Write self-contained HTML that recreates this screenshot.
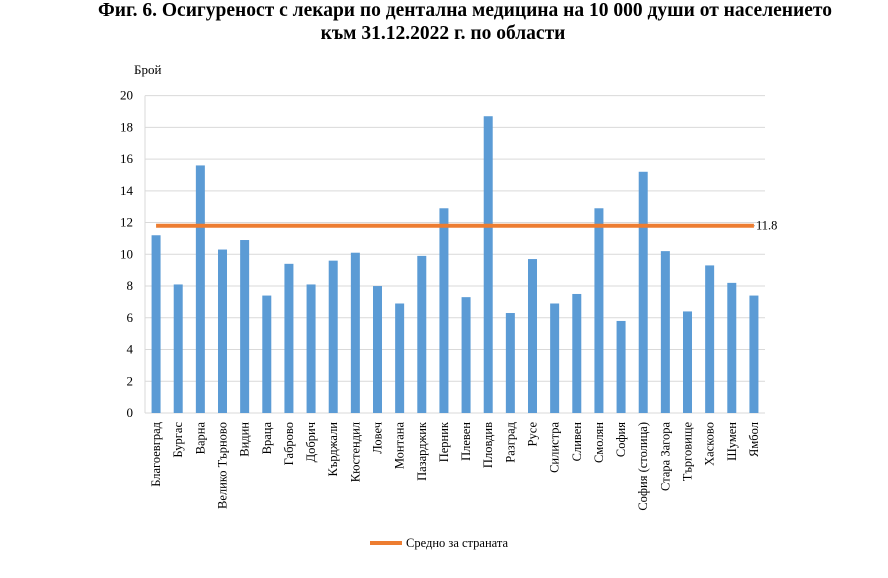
<!DOCTYPE html>
<html><head><meta charset="utf-8"><style>
body{margin:0;background:#fff;width:888px;height:573px;overflow:hidden;font-family:"Liberation Serif",serif}
</style></head><body>
<svg width="888" height="573" xmlns="http://www.w3.org/2000/svg" font-family="Liberation Serif, serif">
<text x="465" y="16" text-anchor="middle" font-size="19.5" font-weight="bold">Фиг. 6. Осигуреност с лекари по дентална медицина на 10 000 души от населението</text>
<text x="443" y="39" text-anchor="middle" font-size="19.5" font-weight="bold">към 31.12.2022 г. по области</text>
<text x="134" y="74" font-size="13">Брой</text>
</svg>
<script>
const s=document.querySelector('svg');const NS='http://www.w3.org/2000/svg';
function el(t,a,txt){const e=document.createElementNS(NS,t);for(const k in a)e.setAttribute(k,a[k]);if(txt!==undefined)e.textContent=txt;s.appendChild(e);return e;}
const y0=413,k=15.87,L=145,R=765;
for(let v=0;v<=20;v+=2){const y=y0-v*k;el('line',{x1:L,x2:R,y1:y,y2:y,stroke:'#d9d9d9','stroke-width':1});el('text',{x:133,y:y+4,'text-anchor':'end','font-size':13},v);}
el('line',{x1:L,x2:L,y1:y0-20*k,y2:y0,stroke:'#d9d9d9'});
const n=['Благоевград','Бургас','Варна','Велико Търново','Видин','Враца','Габрово','Добрич','Кърджали','Кюстендил','Ловеч','Монтана','Пазарджик','Перник','Плевен','Пловдив','Разград','Русе','Силистра','Сливен','Смолян','София','София (столица)','Стара Загора','Търговище','Хасково','Шумен','Ямбол'];
const d=[11.2,8.1,15.6,10.3,10.9,7.4,9.4,8.1,9.6,10.1,8.0,6.9,9.9,12.9,7.3,18.7,6.3,9.7,6.9,7.5,12.9,5.8,15.2,10.2,6.4,9.3,8.2,7.4];
const w=(R-L)/28;
d.forEach((v,i)=>{const c=L+w*(i+0.5);el('rect',{x:c-4.5,y:y0-v*k,width:9,height:v*k,fill:'#5b9bd5'});
el('text',{x:0,y:0,'font-size':12.5,'text-anchor':'end',transform:`translate(${c+4},${y0+9}) rotate(-90)`},n[i]);});
const ya=y0-11.8*k;
el('line',{x1:L+w*0.5,x2:L+w*27.5,y1:ya,y2:ya,stroke:'#ed7d31','stroke-width':4});
el('line',{x1:L+w*27.5,x2:755,y1:ya,y2:ya,stroke:'#a6a6a6','stroke-width':1});
el('text',{x:756,y:ya+4,'font-size':12.5},'11.8');
el('line',{x1:370,x2:402,y1:543,y2:543,stroke:'#ed7d31','stroke-width':4});
el('text',{x:406,y:547,'font-size':12.5},'Средно за страната');
</script>
</body></html>
